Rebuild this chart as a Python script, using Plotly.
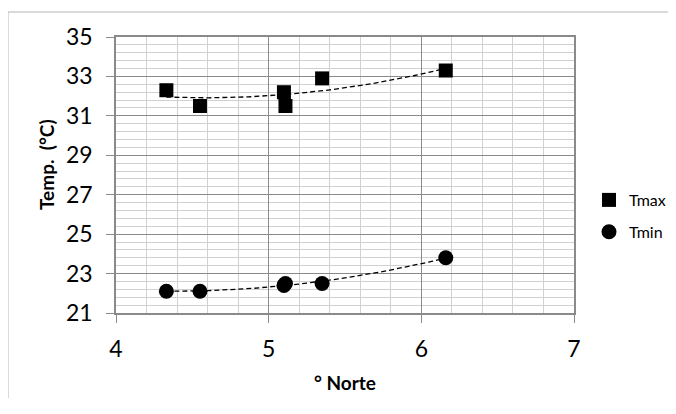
import numpy as np
import plotly.graph_objects as go

# Data
lat_norte = [4.33, 4.55, 5.10, 5.11, 5.35, 6.16]
tmax = [32.3, 31.5, 32.2, 31.5, 32.9, 33.3]
tmin = [22.1, 22.1, 22.4, 22.5, 22.5, 23.8]
x_ticks = [4, 5, 6, 7]
y_ticks = [21, 23, 25, 27, 29, 31, 33, 35]

FONT = "Lato"
OFF = 8  # page body margin
W, H = 660, 390
# plot area in page pixels: left 116, right 574, top 37, bottom 313
L, T = 116 - OFF, 37 - OFF
R, B = W - (574 - OFF), H - (313 - OFF)

fig = go.Figure()

# polynomial (order 2) trendlines, as Excel does
xs = np.linspace(min(lat_norte), max(lat_norte), 100)
for ys in (tmax, tmin):
    c = np.polyfit(lat_norte, ys, 2)
    fig.add_trace(go.Scatter(x=xs, y=np.polyval(c, xs), mode="lines",
                             line=dict(color="black", width=1.3, dash="5px,3px"),
                             showlegend=False, hoverinfo="skip"))

fig.add_trace(go.Scatter(x=lat_norte, y=tmax, mode="markers", name="Tmax",
                         legendgroup="a",
                         marker=dict(symbol="square", size=14, color="black")))
fig.add_trace(go.Scatter(x=lat_norte, y=tmin, mode="markers", name="Tmin",
                         legendgroup="b",
                         marker=dict(symbol="circle", size=15, color="black")))

pw, ph = W - L - R, H - T - B
def px(x): return (x - OFF - L) / pw
def py(y): return (H - B - (y - OFF)) / ph

fig.update_layout(
    width=W, height=H, autosize=False,
    margin=dict(l=L, r=R, t=T, b=B, pad=0, autoexpand=False),
    paper_bgcolor="white", plot_bgcolor="white",
    font=dict(family=FONT, color="black"),
    showlegend=True,
    legend=dict(xref="container", yref="container",
                x=(589 - OFF) / W, y=1 - (216 - OFF) / H,
                xanchor="left", yanchor="middle",
                font=dict(size=16, family=FONT), tracegroupgap=8,
                itemwidth=30, bgcolor="rgba(0,0,0,0)"),
    xaxis=dict(range=[4, 7], tickvals=x_ticks, ticktext=[str(v) for v in x_ticks],
               showgrid=True, gridcolor="#8a8a8a", gridwidth=1,
               showline=True, linecolor="#8a8a8a", linewidth=1.5, mirror=True,
               ticks="outside", ticklen=8, tickcolor="#8a8a8a",
               tickfont=dict(size=23, family=FONT), ticklabelstandoff=7,
               zeroline=False,
               minor=dict(dtick=0.2, tick0=4, showgrid=True, gridcolor="#d0d0d0", gridwidth=1)),
    yaxis=dict(range=[21, 35], tickvals=y_ticks, ticktext=[str(v) for v in y_ticks],
               showgrid=True, gridcolor="#8a8a8a", gridwidth=1,
               showline=True, linecolor="#8a8a8a", linewidth=1.5, mirror=True,
               ticks="outside", ticklen=8, tickcolor="#8a8a8a",
               tickfont=dict(size=23, family=FONT), ticklabelstandoff=9,
               zeroline=False,
               minor=dict(dtick=0.4, tick0=21, showgrid=True, gridcolor="#d0d0d0", gridwidth=1)),
    annotations=[
        dict(text="<b>Temp.  (°C)</b>", xref="paper", yref="paper",
             x=px(46), y=py(165), textangle=-90, showarrow=False,
             xanchor="center", yanchor="middle", font=dict(size=19, family=FONT)),
        dict(text="<b>° Norte</b>", xref="paper", yref="paper",
             x=px(345), y=py(382), showarrow=False,
             xanchor="center", yanchor="middle", font=dict(size=19, family=FONT)),
    ],
    shapes=[
        dict(type="line", xref="paper", yref="paper",
             x0=px(8), x1=px(8), y0=py(12), y1=py(460),
             line=dict(color="#b5b5b5", width=1), layer="below"),
        dict(type="line", xref="paper", yref="paper",
             x0=px(8), x1=px(720), y0=py(12), y1=py(12),
             line=dict(color="#b5b5b5", width=1), layer="below"),
    ],
)

fig.write_html("out.html")
